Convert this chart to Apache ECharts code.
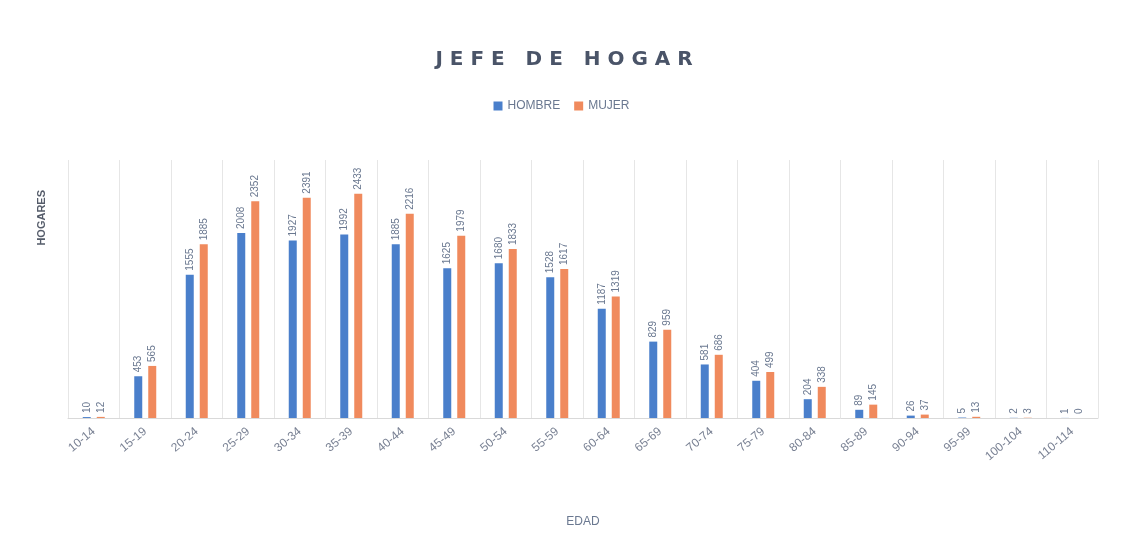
<!DOCTYPE html>
<html><head><meta charset="utf-8">
<script src="https://cdn.jsdelivr.net/npm/echarts@6/dist/echarts.min.js"></script>
<style>html,body{margin:0;padding:0;background:#fff}#c{width:1123px;height:545px}</style>
</head><body><div id="c"></div>
<script>
const categories = ['10-14','15-19','20-24','25-29','30-34','35-39','40-44','45-49','50-54','55-59','60-64','65-69','70-74','75-79','80-84','85-89','90-94','95-99','100-104','110-114'];
const hombre = [10,453,1555,2008,1927,1992,1885,1625,1680,1528,1187,829,581,404,204,89,26,5,2,1];
const mujer  = [12,565,1885,2352,2391,2433,2216,1979,1833,1617,1319,959,686,499,338,145,37,13,3,0];

const lbl = {show:true, position:'top', rotate:90, align:'left', verticalAlign:'middle', distance:4, fontSize:10, color:'#6a7890', fontFamily:'Liberation Sans'};
const chart = echarts.init(document.getElementById('c'));
chart.setOption({
  backgroundColor:'#ffffff',
  animation:false,
  title:{text:'J E F E   D E   H O G A R', left:559, top:45, textAlign:'center',
    textStyle:{fontSize:20, fontWeight:'bold', color:'#4a5468', fontFamily:'DejaVu Sans'}},
  legend:{top:95, left:'center', itemWidth:9, itemHeight:9, itemGap:14, icon:'rect',
    textStyle:{fontSize:12, color:'#6a7890', fontFamily:'Liberation Sans'}},
  grid:{left:68, right:25, top:160, bottom:127},
  graphic:[{type:'text', left:36, top:190, rotation:Math.PI/2,
    style:{text:'HOGARES', fontSize:11, fontWeight:'bold', fill:'#555c6a', fontFamily:'Liberation Sans'}}],
  xAxis:{type:'category', data:categories, name:'EDAD', nameLocation:'middle', nameGap:98,
    nameTextStyle:{fontSize:12, color:'#6a7890'},
    axisLine:{lineStyle:{color:'#d9d9d9'}}, axisTick:{show:false},
    axisLabel:{rotate:40, interval:0, fontSize:12, color:'#7a8294', margin:12},
    splitLine:{show:true, interval:0, lineStyle:{color:'#e6e6e6'}}},
  yAxis:{type:'value', min:0, max:2800,
    axisLabel:{show:false}, axisLine:{show:false}, axisTick:{show:false}, splitLine:{show:false}},
  series:[
    {name:'HOMBRE', type:'bar', data:hombre, barWidth:8, barGap:'75%', itemStyle:{color:'#4a7fcb'}, label:lbl},
    {name:'MUJER', type:'bar', data:mujer, barWidth:8, itemStyle:{color:'#f08a5d'}, label:lbl}
  ]
});
</script></body></html>
